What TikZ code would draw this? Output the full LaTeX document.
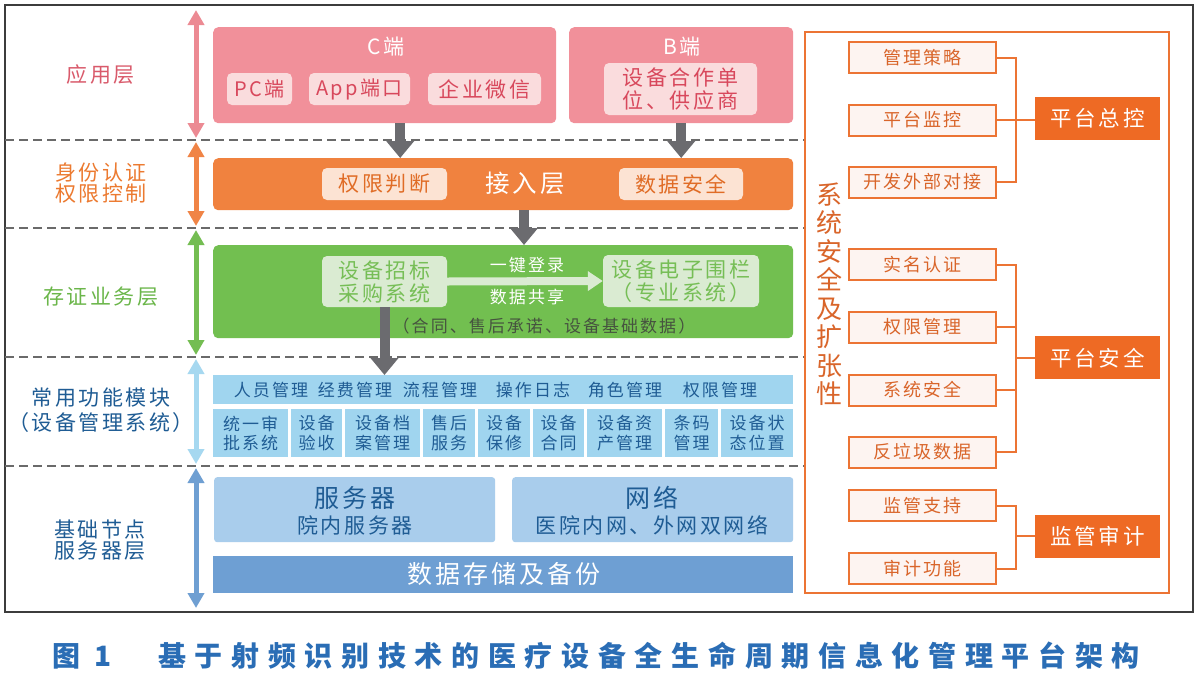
\documentclass[tikz,border=0pt]{standalone}
\usepackage{fontspec}
\setmainfont{Noto Sans CJK SC}[LetterSpace=12]
\usetikzlibrary{arrows.meta}
\definecolor{frame}{HTML}{3C3C3C}
\definecolor{dash}{HTML}{6A6A6A}
\definecolor{pinkbox}{HTML}{F1909A}
\definecolor{pinkin}{HTML}{FADCDD}
\definecolor{pinktxt}{HTML}{D8485C}
\definecolor{pinklab}{HTML}{D95A6B}
\definecolor{pinkarr}{HTML}{EC8A93}
\definecolor{orbar}{HTML}{F0823F}
\definecolor{orin}{HTML}{FCE3D3}
\definecolor{ortxt}{HTML}{E06C26}
\definecolor{orlab}{HTML}{EC7A30}
\definecolor{orarr}{HTML}{F08446}
\definecolor{grbox}{HTML}{72BF50}
\definecolor{grin}{HTML}{DAEBD2}
\definecolor{grtxt}{HTML}{76BE56}
\definecolor{grlab}{HTML}{6BB64A}
\definecolor{grarr}{HTML}{74BD52}
\definecolor{grdark}{HTML}{46533F}
\definecolor{ltblue}{HTML}{A0D5EF}
\definecolor{lbarr}{HTML}{A6D8F0}
\definecolor{bltxt}{HTML}{1F5C94}
\definecolor{srv}{HTML}{A9CDEC}
\definecolor{store}{HTML}{6E9FD3}
\definecolor{blarr}{HTML}{6F9FD2}
\definecolor{rorange}{HTML}{EC7434}
\definecolor{rfill}{HTML}{FDF4F1}
\definecolor{rtxt}{HTML}{D9652A}
\definecolor{rbig}{HTML}{EE6A24}
\definecolor{garrow}{HTML}{6B6B6F}
\definecolor{capblue}{HTML}{2A6DB5}
\newcommand\fsz[2]{\fontsize{#1}{#2}\selectfont}
\tikzset{
  rbox/.style={rectangle, rounded corners=5pt, inner sep=0pt, anchor=north west},
  sbox/.style={rectangle, inner sep=0pt, anchor=north west},
  varr/.style={line width=5pt, {Triangle[width=16pt,length=15pt]}-{Triangle[width=16pt,length=15pt]}},
  garr/.style={line width=10pt, draw=garrow, -{Triangle[width=27pt,length=17pt]}},
  dline/.style={draw=dash, line width=2pt, dash pattern=on 9pt off 5pt},
  small/.style={sbox, draw=rorange, line width=2pt, fill=rfill, minimum width=147pt, minimum height=31pt, text=rtxt, font=\fsz{18}{20}},
  big/.style={sbox, fill=rbig, minimum width=125pt, minimum height=43pt, text=white, font=\fsz{21.5}{24}},
  conn/.style={draw=rorange, line width=2pt},
  cell/.style={sbox, fill=ltblue, text=bltxt, align=center, font=\fsz{17}{19.5}},
}
\begin{document}
\begin{tikzpicture}[x=1pt,y=-1pt]
\useasboundingbox (0,0) rectangle (1200,678);
\fill[white] (0,0) rectangle (1200,678);
% frame
\draw[frame, line width=1.8pt] (5,5) rectangle (1193,612);
% dashed separators
\draw[dline] (5,140) -- (805,140);
\draw[dline] (5,228) -- (805,228);
\draw[dline] (5,357) -- (805,357);
\draw[dline] (5,466) -- (805,466);
% vertical arrows
\draw[varr, pinkarr] (196,10) -- (196,138);
\draw[varr, orarr] (196,142) -- (196,226);
\draw[varr, grarr] (196,230) -- (196,355);
\draw[varr, lbarr] (196,359) -- (196,464);
\draw[varr, blarr] (196,468) -- (196,608);
% left labels
\node[text=pinklab, font=\fsz{21}{24}] (l1) at (101,75) {应用层};
\node[text=orlab, font=\fsz{21}{21.5}, align=center] (l2) at (101,183) {身份认证\\权限控制};
\node[text=grlab, font=\fsz{21}{24}] (l3) at (101,297) {存证业务层};
\node[text=bltxt, font=\fsz{21}{25}, align=center] (l4) at (101,410) {常用功能模块\\（设备管理系统）};
\node[text=bltxt, font=\fsz{21}{21.5}, align=center] (l5) at (100,540) {基础节点\\服务器层};
% application layer
\node[rbox, fill=pinkbox, minimum width=343pt, minimum height=96pt] (cbox) at (213,27) {};
\node[text=white, font=\fsz{21}{24}] (ct) at (386,47) {C端};
\node[rbox, fill=pinkin, minimum width=65pt, minimum height=32pt, anchor=center, text=pinktxt, font=\fsz{20}{22}] (pc) at (259.5,89) {PC端};
\node[rbox, fill=pinkin, minimum width=101pt, minimum height=32pt, anchor=center, text=pinktxt, font=\fsz{20}{22}] (app) at (359.5,89) {App端口};
\node[rbox, fill=pinkin, minimum width=113pt, minimum height=32pt, anchor=center, text=pinktxt, font=\fsz{21}{22}] (wx) at (484.5,89) {企业微信};
\node[rbox, fill=pinkbox, minimum width=224pt, minimum height=96pt] (bbox) at (569,27) {};
\node[text=white, font=\fsz{21}{24}] (bt) at (682,47) {B端};
\node[rbox, fill=pinkin, minimum width=153pt, minimum height=52pt, anchor=center, text=pinktxt, font=\fsz{21}{23}, align=center] (sup) at (680.5,89) {设备合作单\\位、供应商};
% access layer
\node[rbox, fill=orbar, minimum width=580pt, minimum height=52pt] (acc) at (213,158) {};
\node[text=white, font=\fsz{24.5}{28}] (acct) at (525,183) {接入层};
\node[rbox, fill=orin, minimum width=125pt, minimum height=32pt, anchor=center, text=ortxt, font=\fsz{21}{22}] (qx) at (384.5,184) {权限判断};
\node[rbox, fill=orin, minimum width=124pt, minimum height=32pt, anchor=center, text=ortxt, font=\fsz{21}{22}] (sj) at (681,184) {数据安全};
\draw[garr] ([xshift=15.5pt]cbox.south) -- ([xshift=15.5pt]cbox.south |- acc.north);
\draw[garr] (bbox.south) -- (bbox.south |- acc.north);
% business layer
\node[rbox, fill=grbox, minimum width=580pt, minimum height=93pt] (biz) at (213,245) {};
\draw[garr] ([xshift=-1pt]acct.south |- acc.south) -- ([xshift=-1pt]acct.south |- biz.north);
\node[rbox, fill=grin, minimum width=125pt, minimum height=51pt, anchor=center, text=grtxt, font=\fsz{21}{23}, align=center] (zb) at (384.5,281.5) {设备招标\\采购系统};
\node[rbox, fill=grin, minimum width=156pt, minimum height=52pt, anchor=center, text=grtxt, font=\fsz{21}{23}, align=center] (wl) at (681,281) {设备电子围栏\\（专业系统）};
\draw[line width=8pt, draw=grin, -{Triangle[width=19pt,length=15pt]}] (zb.east) -- (wl.west);
\node[text=white, font=\fsz{17}{19}] (yj) at (527,265) {一键登录};
\node[text=white, font=\fsz{17}{19}] (gx) at (527,297) {数据共享};
\node[text=grdark, font=\fsz{17}{20}] (ht) at (544,326) {（合同、售后承诺、设备基础数据）};
% module layer
\node[sbox, fill=ltblue, minimum width=580pt, minimum height=29pt] (mod) at (213,375) {};
\draw[garr] (zb.south) -- (zb.south |- mod.north);
\begin{scope}[every node/.style={text=bltxt, font=\fsz{17}{19}}]
\node (m1) at (271,390) {人员管理};
\node (m2) at (355,390) {经费管理};
\node (m3) at (440,390) {流程管理};
\node (m4) at (533,390) {操作日志};
\node (m5) at (625,390) {角色管理};
\node (m6) at (720,390) {权限管理};
\end{scope}
\node[cell, minimum width=75pt, minimum height=48pt] (c1) at (213,409) {统一审\\批系统};
\node[cell, minimum width=51pt, minimum height=48pt] (c2) at (291,409) {设备\\验收};
\node[cell, minimum width=75pt, minimum height=48pt] (c3) at (345,409) {设备档\\案管理};
\node[cell, minimum width=52pt, minimum height=48pt] (c4) at (423,409) {售后\\服务};
\node[cell, minimum width=52pt, minimum height=48pt] (c5) at (478,409) {设备\\保修};
\node[cell, minimum width=51pt, minimum height=48pt] (c6) at (533,409) {设备\\合同};
\node[cell, minimum width=75pt, minimum height=48pt] (c7) at (587,409) {设备资\\产管理};
\node[cell, minimum width=53pt, minimum height=48pt] (c8) at (665,409) {条码\\管理};
\node[cell, minimum width=72pt, minimum height=48pt] (c9) at (721,409) {设备状\\态位置};
% server layer
\node[rbox, rounded corners=3pt, fill=srv, minimum width=281pt, minimum height=65pt] (srvb) at (214,477) {};
\node[rbox, rounded corners=3pt, fill=srv, minimum width=281pt, minimum height=65pt] (netb) at (512,477) {};
\node[text=bltxt, font=\fsz{25}{27}] (srvt) at (355,498) {服务器};
\node[text=bltxt, font=\fsz{21}{22}] (srvs) at (355,525) {院内服务器};
\node[text=bltxt, font=\fsz{25}{27}] (nett) at (652,498) {网络};
\node[text=bltxt, font=\fsz{21}{22}] (nets) at (652,525) {医院内网、外网双网络};
\node[sbox, fill=store, minimum width=580pt, minimum height=37pt] (stb) at (213,556) {};
\node[text=white, font=\fsz{25}{27}] (stt) at (504,574) {数据存储及备份};
% right panel
\draw[conn] (805,32) rectangle (1169,593);
\node[text=rtxt, font=\fsz{26}{28.5}, align=center] (vt) at (829,294) {系\\统\\安\\全\\及\\扩\\张\\性};
\node[small] (s1) at (848,41) {管理策略};
\node[small] (s2) at (848,103.5) {平台监控};
\node[small] (s3) at (848,165.5) {开发外部对接};
\node[small] (s4) at (848,248) {实名认证};
\node[small] (s5) at (848,310.5) {权限管理};
\node[small] (s6) at (848,373.5) {系统安全};
\node[small] (s7) at (848,435.5) {反垃圾数据};
\node[small] (s8) at (848,489) {监管支持};
\node[small] (s9) at (848,552) {审计功能};
\node[big] (b1) at (1035,97) {平台总控};
\node[big] (b2) at (1035,336) {平台安全};
\node[big] (b3) at (1035,514.5) {监管审计};
\coordinate (j1) at (1016,119);
\coordinate (j2) at (1016,357.5);
\coordinate (j3) at (1016,536);
\draw[conn] (s1.east) -- (s1.east -| j1) -- (s3.east -| j1) -- (s3.east);
\draw[conn] (s2.east) -- (s2.east -| b1.west);
\draw[conn] (s4.east) -- (s4.east -| j2) -- (s7.east -| j2) -- (s7.east);
\draw[conn] (s5.east) -- (s5.east -| j2);
\draw[conn] (s6.east) -- (s6.east -| j2);
\draw[conn] (j2) -- (j2 -| b2.west);
\draw[conn] (s8.east) -- (s8.east -| j3) -- (s9.east -| j3) -- (s9.east);
\draw[conn] (j3) -- (j3 -| b3.west);
% caption
\node[text=capblue, font=\fsz{28}{30}\bfseries\addfontfeature{LetterSpace=0}] (cap1) at (82,656) {图\hspace{14pt}1};
\node[text=capblue, font=\fsz{28}{30}\bfseries\addfontfeature{LetterSpace=31}] (cap2) at (649,656) {基于射频识别技术的医疗设备全生命周期信息化管理平台架构};
\end{tikzpicture}
\end{document}
